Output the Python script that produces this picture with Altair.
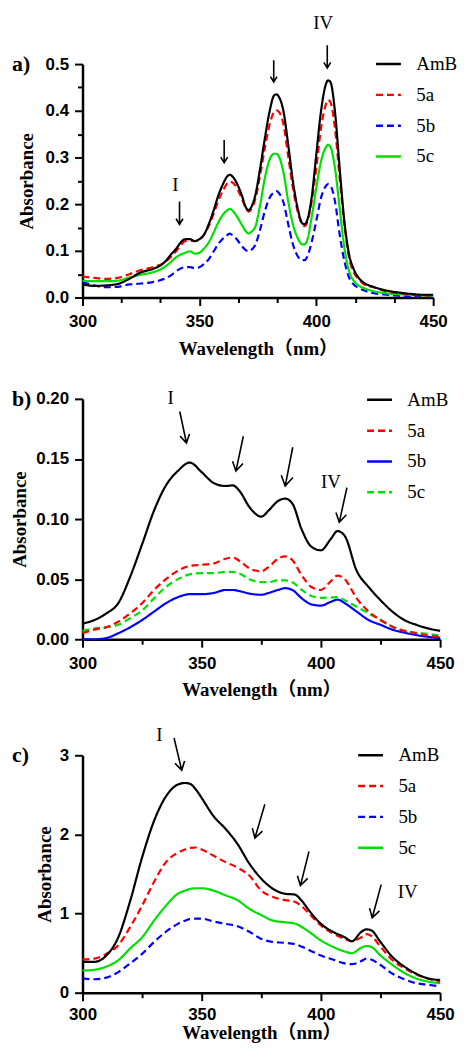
import altair as alt
import pandas as pd

NAMES = ["AmB", "5a", "5b", "5c"]
COLORS = ["#000000", "#ff0000", "#0000ff", "#00e000"]
DRAW_ORDER = ["5b", "5c", "5a", "AmB"]

# ---------------- panel a ----------------
WL_A = [300, 305, 310, 315, 320, 325, 330, 335, 338, 340, 342, 344, 346, 348, 350, 352, 354, 356, 358, 360,
        362, 363, 364, 366, 368, 370, 371, 372, 374, 376, 378, 380, 382, 383, 384, 386, 388, 390, 392, 394,
        395, 396, 398, 400, 402, 404, 405, 406, 408, 410, 412, 414, 416, 418, 420, 425, 430, 435, 440, 445, 450]
AMB_A = [.028, .025, .026, .029, .040, .054, .061, .075, .093, .104, .118, .125, .125, .121, .125, .135, .157, .185, .217, .242,
         .260, .263, .260, .245, .221, .192, .187, .192, .221, .277, .341, .398, .433, .435, .430, .398, .327, .249, .192, .159,
         .157, .164, .213, .306, .398, .455, .465, .462, .398, .277, .164, .093, .061, .043, .033, .022, .015, .011, .008, .006, .006]
S5A_A = [.045, .042, .040, .042, .050, .059, .065, .075, .088, .099, .112, .121, .122, .121, .123, .135, .153, .178, .206, .228,
         .245, .248, .247, .235, .214, .190, .184, .188, .212, .263, .320, .370, .398, .401, .398, .370, .302, .235, .185, .157,
         .153, .160, .206, .277, .362, .412, .423, .419, .362, .256, .157, .086, .054, .040, .030, .021, .013, .009, .006, .005, .004]
S5B_A = [.033, .026, .022, .023, .028, .030, .033, .040, .048, .056, .062, .065, .065, .063, .065, .072, .082, .098, .114, .126,
         .134, .137, .134, .125, .111, .101, .099, .101, .114, .146, .185, .213, .226, .228, .224, .203, .157, .114, .089, .080,
         .080, .086, .118, .164, .213, .238, .243, .240, .206, .135, .079, .043, .028, .021, .016, .009, .006, .004, .002, .002, .001]
S5C_A = [.036, .035, .035, .036, .043, .049, .054, .065, .077, .086, .092, .096, .099, .094, .096, .105, .118, .138, .160, .177,
         .187, .190, .187, .174, .157, .141, .137, .140, .153, .199, .256, .295, .308, .308, .302, .267, .206, .157, .128, .114,
         .114, .121, .171, .235, .291, .321, .327, .323, .277, .192, .107, .057, .036, .026, .021, .013, .009, .007, .006, .005, .004]

# ---------------- panel b ----------------
WL_B = [300, 305, 310, 315, 320, 325, 330, 335, 340, 345, 350, 355, 360, 363, 366, 370, 375, 378, 382, 385,
        388, 392, 396, 400, 404, 407, 410, 415, 420, 425, 430, 435, 440, 445, 450]
AMB_B = [.013, .016, .0215, .030, .052, .079, .107, .128, .140, .147, .139, .130, .1275, .128, .123, .110, .102, .107, .115, .117,
         .113, .091, .077, .074, .083, .090, .086, .057, .0435, .0325, .023, .016, .012, .009, .007]
S5A_B = [.005, .008, .010, .0146, .0215, .030, .041, .050, .057, .061, .062, .063, .067, .068, .065, .059, .0565, .060, .067, .069,
         .066, .053, .0435, .041, .048, .053, .050, .034, .023, .016, .0105, .007, .005, .003, .002]
S5B_B = [0, 0, .001, .005, .010, .016, .023, .030, .035, .0375, .0375, .0385, .041, .041, .040, .038, .037, .0385, .041, .0425,
         .041, .034, .029, .028, .031, .033, .030, .023, .016, .012, .008, .0055, .0035, .002, .001]
S5C_B = [.007, .009, .010, .012, .0175, .024, .034, .0435, .050, .054, .055, .055, .056, .056, .0545, .050, .0475, .0475, .049, .049,
         .0475, .041, .036, .0345, .0347, .035, .0325, .027, .0215, .016, .0105, .007, .0055, .0045, .003]

# ---------------- panel c ----------------
WL_C = [300, 305, 310, 315, 320, 325, 330, 335, 340, 343, 345, 348, 350, 355, 360, 365, 370, 375, 380,
        385, 389, 392, 395, 400, 405, 410, 413, 417, 419, 421, 425, 430, 435, 440, 445, 450]
AMB_C = [.39, .39, .47, .70, 1.16, 1.71, 2.17, 2.48, 2.63, 2.65, 2.64, 2.55, 2.46, 2.23, 2.07, 1.88, 1.63, 1.44, 1.31,
         1.25, 1.24, 1.16, 1.04, .87, .77, .70, .65, .77, .80, .79, .64, .45, .33, .24, .18, .16]
S5A_C = [.42, .43, .49, .60, .83, 1.10, 1.40, 1.65, 1.77, 1.81, 1.83, 1.835, 1.81, 1.73, 1.65, 1.58, 1.48, 1.29, 1.21,
         1.17, 1.15, 1.09, 1.00, .85, .75, .68, .65, .70, .74, .72, .58, .41, .31, .23, .18, .14]
S5B_C = [.18, .17, .19, .26, .37, .49, .64, .77, .87, .91, .93, .935, .935, .90, .87, .84, .77, .68, .64,
         .63, .615, .58, .54, .47, .42, .37, .36, .40, .43, .42, .35, .24, .17, .12, .10, .08]
S5C_C = [.28, .29, .33, .41, .56, .70, .91, 1.10, 1.25, 1.29, 1.31, 1.32, 1.32, 1.29, 1.23, 1.17, 1.06, .98, .91,
         .89, .875, .83, .77, .66, .58, .52, .50, .57, .59, .58, .47, .35, .25, .18, .14, .12]

# ---------------- annotations (arrows and labels, in data units) ----------------
ARR_A_WL = [341.5, 360.6, 381.8, 404.7]
ARR_A_ABS = [0.181, 0.313, 0.485, 0.516]
ARR_A_ANG = [0, 0, 0, 0]
ARR_A_LEN = [23, 23, 22, 23]
ROM_A_TXT = ["I", "IV"]
ROM_A_WL = [339.7, 403.0]
ROM_A_ABS = [0.240, 0.588]

ARR_B_WL = [342.2, 365.9, 386.6, 409.3]
ARR_B_ABS = [0.1764, 0.1544, 0.1436, 0.1117]
ARR_B_ANG = [348, 12, 11, 12.4]
ARR_B_LEN = [32.4, 35.8, 39.8, 35.8]
ROM_B_TXT = ["I", "IV"]
ROM_B_WL = [337.0, 404.2]
ROM_B_ABS = [0.2005, 0.131]

ARR_C_WL = [340.0, 374.4, 393.2, 423.4]
ARR_C_ABS = [3.015, 2.167, 1.569, 1.156]
ARR_C_ANG = [346.6, 16.4, 14.1, 15.1]
ARR_C_LEN = [33.2, 35.4, 35.4, 34.5]
ROM_C_TXT = ["I", "IV"]
ROM_C_WL = [332.2, 436.4]
ROM_C_ABS = [3.26, 1.27]

SERIF = "Liberation Serif, Times New Roman, Noto Sans CJK SC, serif"
SANS = "Liberation Sans, Arial, sans-serif"
ARROW_PATH = "M0,-1L0,1M-0.3,0.5L0,1L0.3,0.5"
SOLID = [1, 0]
DASH = [7, 4]


def long_df(wl, series):
    rows = []
    for name in DRAW_ORDER:
        for w, v in zip(wl, series[name]):
            rows.append({"wl": w, "abs": v, "series": name})
    return pd.DataFrame(rows)


def panel(wl, series, dashes, ymax, yvals, yfmt, yminor, xminor, w, h, letter,
          arr, rom, leg_x, leg_y, ytitle_x, xtitle_y=51, xlabel_pad=16):
    df = long_df(wl, series)
    xs = alt.Scale(domain=[300, 450], nice=False, zero=False)
    ys = alt.Scale(domain=[0, ymax], nice=False, zero=True)
    x_axis = alt.Axis(values=[300, 350, 400, 450], format="d", title="Wavelength（nm）",
                      titleY=xtitle_y, titleBaseline="middle", labelBaseline="middle",
                      labelPadding=xlabel_pad, tickSize=8, grid=False, labelFlush=False,
                      labelOverlap=False)
    y_axis = alt.Axis(values=yvals, format=yfmt, title="Absorbance", titleX=ytitle_x,
                      titleY=h / 2, titleBaseline="middle", titleAngle=270, titleAlign="center",
                      tickSize=8, labelPadding=6, grid=False, labelFlush=False,
                      labelOverlap=False)
    legend = alt.Legend(orient="none", legendX=leg_x, legendY=leg_y, title=None,
                        symbolType="stroke", symbolSize=625, symbolStrokeWidth=2.5,
                        labelFont=SERIF, labelFontSize=19, labelFontWeight="normal",
                        labelColor="black", labelOffset=14, rowPadding=7, padding=0)
    lines = alt.Chart(df).mark_line(strokeWidth=2.2, interpolate="monotone").encode(
        x=alt.X("wl:Q", scale=xs, axis=x_axis),
        y=alt.Y("abs:Q", scale=ys, axis=y_axis),
        color=alt.Color("series:N", scale=alt.Scale(domain=NAMES, range=COLORS), legend=legend),
        strokeDash=alt.StrokeDash("series:N", scale=alt.Scale(domain=NAMES, range=dashes), legend=legend),
    )
    minor_x = alt.Axis(orient="bottom", values=xminor, labels=False, domain=False, tickSize=5,
                       title=None, grid=False)
    if yminor:
        minor_y = alt.Axis(orient="left", values=yminor, labels=False, domain=False, tickSize=5,
                           title=None, grid=False)
    else:
        minor_y = None
    adf = pd.DataFrame({"wl": arr[0], "abs": arr[1], "ang": arr[2], "len": arr[3]})
    adf["sz"] = adf["len"] ** 2
    arrows = alt.Chart(adf).mark_point(shape=ARROW_PATH, filled=False, strokeWidth=1.6,
                                       color="black", opacity=1).encode(
        x=alt.X("wl:Q", scale=xs, axis=minor_x),
        y=alt.Y("abs:Q", scale=ys, axis=minor_y),
        angle=alt.Angle("ang:Q", scale=None),
        size=alt.Size("sz:Q", scale=None),
    )
    rdf = pd.DataFrame({"t": rom[0], "wl": rom[1], "abs": rom[2]})
    romans = alt.Chart(rdf).mark_text(font=SERIF, fontSize=19, color="black",
                                      baseline="middle", align="center").encode(
        x=alt.X("wl:Q", scale=xs, axis=None),
        y=alt.Y("abs:Q", scale=ys, axis=None),
        text="t:N",
    )
    let = alt.Chart(pd.DataFrame({"t": [letter]})).mark_text(
        font=SERIF, fontSize=22, fontWeight="bold", align="left", baseline="middle", color="black"
    ).encode(x=alt.value(-71), y=alt.value(0), text="t:N")
    return alt.layer(lines, arrows, romans, let).resolve_axis(
        x="independent", y="independent").properties(width=w, height=h)


pa = panel(WL_A, {"AmB": AMB_A, "5a": S5A_A, "5b": S5B_A, "5c": S5C_A},
           [SOLID, DASH, DASH, SOLID], 0.5, [0, 0.1, 0.2, 0.3, 0.4, 0.5], ".1f",
           [0.05, 0.15, 0.25, 0.35, 0.45],
           [316.667, 333.333, 366.667, 383.333, 416.667, 433.333],
           353, 235, "a)",
           (ARR_A_WL, ARR_A_ABS, ARR_A_ANG, ARR_A_LEN), (ROM_A_TXT, ROM_A_WL, ROM_A_ABS),
           294, -14, -56)
pb = panel(WL_B, {"AmB": AMB_B, "5a": S5A_B, "5b": S5B_B, "5c": S5C_B},
           [SOLID, DASH, SOLID, DASH], 0.2, [0, 0.05, 0.1, 0.15, 0.2], ".2f",
           None, [325, 375, 425],
           360, 242, "b)",
           (ARR_B_WL, ARR_B_ABS, ARR_B_ANG, ARR_B_LEN), (ROM_B_TXT, ROM_B_WL, ROM_B_ABS),
           285, -13, -63)
pc = panel(WL_C, {"AmB": AMB_C, "5a": S5A_C, "5b": S5B_C, "5c": S5C_C},
           [SOLID, DASH, DASH, SOLID], 3, [0, 1, 2, 3], "d",
           None, [325, 375, 425],
           360, 239, "c)",
           (ARR_C_WL, ARR_C_ABS, ARR_C_ANG, ARR_C_LEN), (ROM_C_TXT, ROM_C_WL, ROM_C_ABS),
           276, -14, -38, xtitle_y=40, xlabel_pad=14)

top_pair = alt.vconcat(pa, pb, spacing=28).resolve_scale(
    color="independent", strokeDash="independent"
).resolve_legend(color="independent", strokeDash="independent")

chart = alt.vconcat(top_pair, pc, spacing=25.8).resolve_scale(
    color="independent", strokeDash="independent"
).resolve_legend(
    color="independent", strokeDash="independent"
).properties(
    padding={"left": 3, "top": 2, "right": 0, "bottom": 0}
).configure_view(stroke=None).configure_axis(
    labelFont=SANS, labelFontSize=17, labelFontWeight="bold", labelColor="black",
    titleFont=SERIF, titleFontSize=19, titleFontWeight="bold", titleColor="black",
    domainColor="black", domainWidth=2.5, tickColor="black", tickWidth=2, grid=False
)

chart.save("out.html", embed_options={"renderer": "svg", "actions": False})
